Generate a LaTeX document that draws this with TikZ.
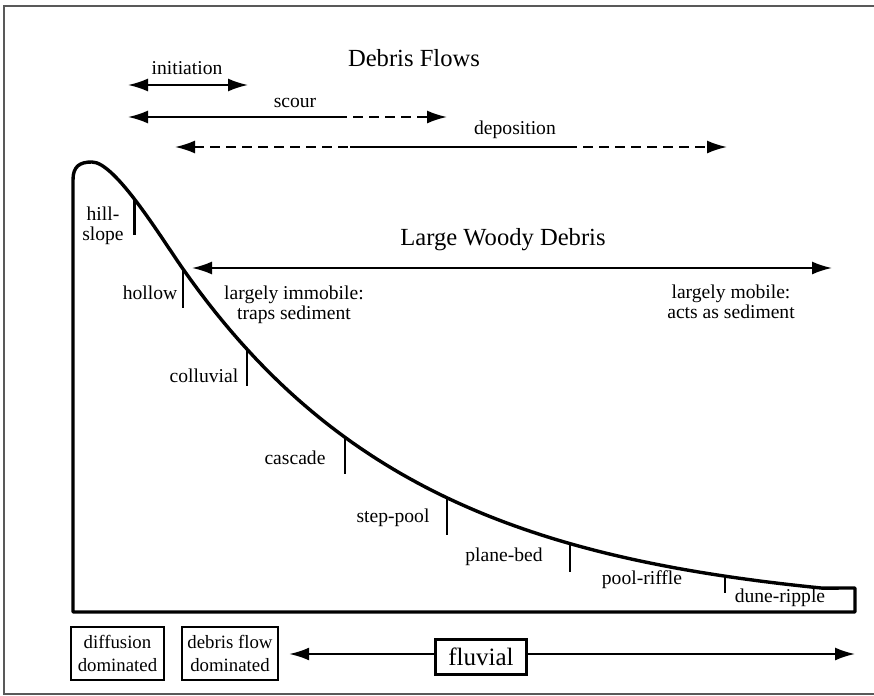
\documentclass[tikz,border=0pt]{standalone}
\usepackage{fontspec}
\setmainfont{Liberation Serif}
\usetikzlibrary{arrows.meta}

\begin{document}
\begin{tikzpicture}[
      x=0.5pt, y=-0.5pt,
      >={Latex[length=10pt,width=6.5pt]},
      tag/.style={font=\fontsize{9.8}{10}\selectfont,inner sep=0pt,align=center},
      heading/.style={font=\fontsize{12.3}{14}\selectfont,inner sep=0pt},
      zone/.style={draw,line width=1.2pt,align=center,inner sep=1pt,font=\fontsize{9.4}{11.5}\selectfont},
      span/.style={line width=1pt},
      gap/.style={line width=1pt,dash pattern=on 5pt off 3pt},
      profile/.style={line width=1.7pt,line join=round},
      tick/.style={line width=1.2pt}
    ]
      \useasboundingbox (0,0) rectangle (874,696);
      \draw[black!65,line width=0.8pt] (874,6) -- (4,6) -- (4,694) -- (874,694);

      % channel profile: rounded crest, then exponential decay to the dune-ripple reach
      \draw[profile] (855,612) -- (73,612) -- (73,180)
        .. controls (73,166) and (80,162) .. (92,162)
        .. controls (115,162) and (160,236) .. (183,269) coordinate[pos=0.47] (hill) coordinate (hollow)
        -- plot[domain=183:822,samples=80] (\x,{612-343*exp(-(\x-183)/240)})
        -- (855,588) -- cycle;
      \foreach \tx/\tn in {247/colluv,345/casc,447/steppool,570/planebed,725/poolriff}
        \coordinate (\tn) at (\tx,{612-343*exp(-(\tx-183)/240)});
      \foreach \c/\l in {hill/36,hollow/39,colluv/37,casc/37,steppool/37,planebed/28,poolriff/17}
        \draw[tick] (\c) -- ++(0,\l);

      \node[tag] (hilllbl) at (103,226) {hill-\\slope};
      \node[tag] (hollowlbl) at (150,293) {hollow};
      \node[tag] (colluvlbl) at (204,376) {colluvial};
      \node[tag] (casclbl) at (295,458) {cascade};
      \node[tag] (steplbl) at (393,518) {step-pool};
      \node[tag] (planelbl) at (504,557) {plane-bed};
      \node[tag] (poollbl) at (642,580) {pool-riffle};
      \node[tag] (dunelbl) at (780,598) {dune-ripple};

      % debris flows
      \node[heading] (dftitle) at (414,58) {Debris Flows};
      \node[tag] (initlbl) at (187,68) {initiation};
      \coordinate (initL) at (128,85);
      \coordinate (initR) at (248,85);
      \draw[span,<->] (initL) -- (initR);
      \node[tag] (scourlbl) at (295,103) {scour};
      \coordinate (scourL) at (128,117);
      \coordinate (scourM) at (337,117);
      \coordinate (scourR) at (447,117);
      \draw[span,<-] (scourL) -- (scourM);
      \draw[gap,->] (scourM) -- (scourR);
      \node[tag] (deplbl) at (515,130) {deposition};
      \coordinate (depL) at (175,147);
      \coordinate (depA) at (350,147);
      \coordinate (depB) at (567,147);
      \coordinate (depR) at (727,147);
      \draw[gap,<-] (depL) -- (depA);
      \draw[span] (depA) -- (depB);
      \draw[gap,->] (depB) -- (depR);

      % large woody debris
      \node[heading] (lwdtitle) at (503,240) {Large Woody Debris};
      \coordinate (lwdL) at (192,268);
      \coordinate (lwdR) at (832,268);
      \draw[span,<->] (lwdL) -- (lwdR);
      \node[tag] (immob) at (294,305) {largely immobile:\\traps sediment};
      \node[tag] (mob) at (731,302) {largely mobile:\\acts as sediment};

      % process domains
      \node[zone,minimum width=46.5pt,minimum height=26.5pt] (diffbox) at (117.5,653.5) {diffusion\\dominated};
      \node[zone,minimum width=48pt,minimum height=26.5pt] (dfbox) at (230,653.5) {debris flow\\dominated};
      \node[zone,font=\fontsize{12.5}{14}\selectfont,minimum width=45.5pt,minimum height=17.5pt] (fluv) at (481,657) {fluvial};
      \coordinate (fluvR) at (855,654);
      \draw[span,<-] ([xshift=5pt]dfbox.east |- fluvR) -- (fluv.west |- fluvR);
      \draw[span,->] (fluv.east |- fluvR) -- (fluvR);
\end{tikzpicture}
\end{document}
